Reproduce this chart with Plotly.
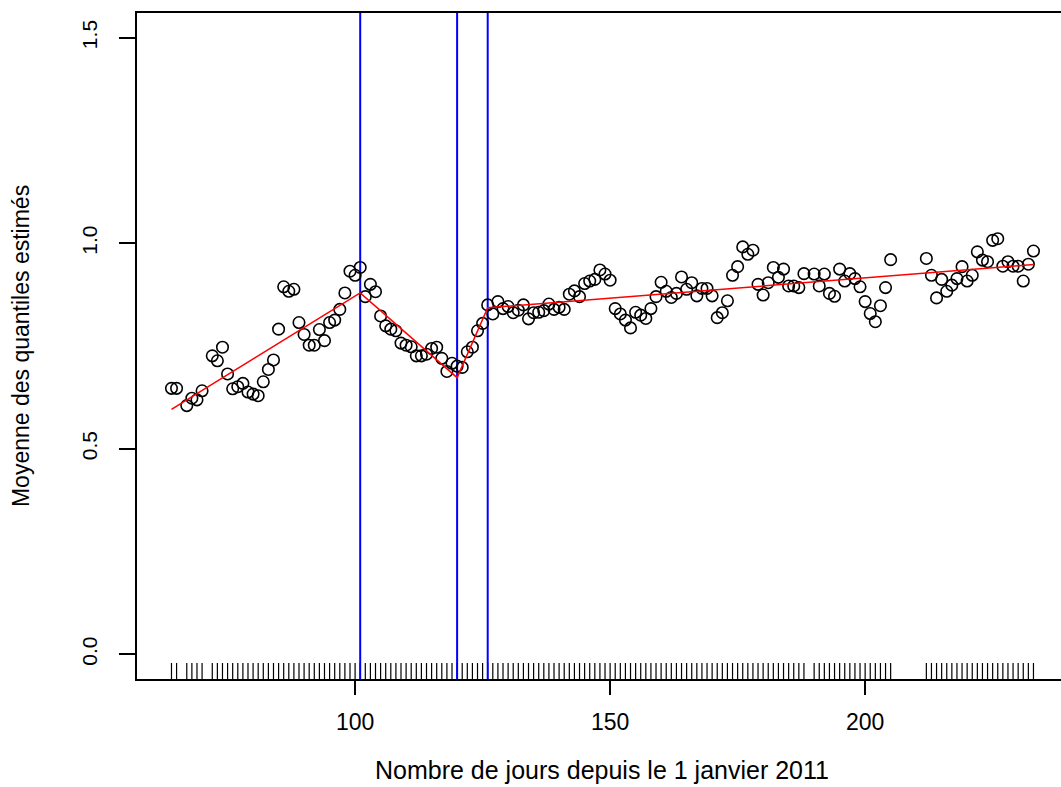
import plotly.graph_objects as go

# ---- data ----
days = [64, 65, 67, 68, 69, 70,
        72, 73, 74, 75, 76, 77, 78, 79, 80, 81, 82, 83, 84, 85, 86, 87, 88, 89, 90,
        91, 92, 93, 94, 95, 96, 97, 98, 99, 100, 101, 102, 103, 104, 105, 106, 107, 108, 109, 110,
        111, 112, 113, 114, 115, 116, 117, 118, 119, 120, 121, 122, 123, 124, 125, 126, 127, 128, 129, 130,
        131, 132, 133, 134, 135, 136, 137, 138, 139, 140, 141, 142, 143, 144, 145, 146, 147, 148, 149, 150,
        151, 152, 153, 154, 155, 156, 157, 158, 159, 160, 161, 162, 163, 164, 165, 166, 167, 168, 169, 170,
        171, 172, 173, 174, 175, 176, 177, 178, 179, 180, 181, 182, 183, 184, 185, 186, 187, 188,
        190, 191, 192, 193, 194, 195, 196, 197, 198, 199, 200, 201, 202, 203, 204, 205,
        212, 213, 214, 215, 216, 217, 218, 219, 220, 221, 222, 223, 224, 225, 226, 227, 228, 229, 230,
        231, 232, 233]

quantile_mean = [0.647, 0.647, 0.605, 0.623, 0.619, 0.641,
                 0.726, 0.714, 0.747, 0.682, 0.646, 0.651, 0.659, 0.638, 0.633, 0.629, 0.663, 0.693, 0.716, 0.791,
                 0.894, 0.883, 0.888, 0.807, 0.778,
                 0.752, 0.752, 0.790, 0.763, 0.807, 0.813, 0.839, 0.879, 0.932, 0.922, 0.941, 0.870, 0.900, 0.882,
                 0.823, 0.799, 0.791, 0.787, 0.757, 0.752,
                 0.748, 0.726, 0.726, 0.730, 0.744, 0.747, 0.720, 0.688, 0.708, 0.701, 0.698, 0.736, 0.747, 0.787,
                 0.805, 0.850, 0.828, 0.858, 0.841, 0.846,
                 0.831, 0.837, 0.850, 0.816, 0.831, 0.832, 0.836, 0.852, 0.839, 0.844, 0.839, 0.876, 0.884, 0.870,
                 0.902, 0.908, 0.912, 0.935, 0.925, 0.910,
                 0.841, 0.828, 0.813, 0.794, 0.832, 0.825, 0.817, 0.841, 0.870, 0.905, 0.883, 0.868, 0.878, 0.918,
                 0.888, 0.904, 0.872, 0.890, 0.890, 0.872,
                 0.819, 0.831, 0.860, 0.922, 0.943, 0.991, 0.973, 0.983, 0.900, 0.874, 0.904, 0.941, 0.917, 0.937,
                 0.896, 0.896, 0.892, 0.926,
                 0.925, 0.896, 0.925, 0.878, 0.871, 0.937, 0.908, 0.926, 0.914, 0.894, 0.858, 0.829, 0.809, 0.848,
                 0.892, 0.960,
                 0.963, 0.922, 0.867, 0.912, 0.883, 0.898, 0.914, 0.943, 0.908, 0.922, 0.979, 0.959, 0.955, 1.007,
                 1.011, 0.944, 0.955, 0.944, 0.944,
                 0.908, 0.949, 0.981]

fit_knots_x = [64, 101, 120, 126, 233]
fit_knots_y = [0.596, 0.879, 0.673, 0.843, 0.948]

breakpoints = [101, 120, 126]

x_ticks = [100, 150, 200]
y_ticks = [0.0, 0.5, 1.0, 1.5]
y_tick_labels = ["0.0", "0.5", "1.0", "1.5"]

x_title = "Nombre de jours depuis le 1 janvier 2011"
y_title = "Moyenne des quantiles estimés"

X_RANGE = [57.24, 238.4]
Y_RANGE = [-0.06, 1.56]
RUG_TOP = Y_RANGE[0] + 0.039

FONT = "Liberation Sans, Arial, Helvetica, sans-serif"

fig = go.Figure()

# rug
rug_x, rug_y = [], []
for d in days:
    rug_x += [d, d, None]
    rug_y += [Y_RANGE[0], RUG_TOP, None]
fig.add_trace(go.Scatter(x=rug_x, y=rug_y, mode="lines",
                         line=dict(color="black", width=1.2),
                         hoverinfo="skip", showlegend=False))

# breakpoints (vertical blue lines)
for b in breakpoints:
    fig.add_trace(go.Scatter(x=[b, b], y=Y_RANGE, mode="lines",
                             line=dict(color="#0000FF", width=2),
                             hoverinfo="skip", showlegend=False))

# points
fig.add_trace(go.Scatter(x=days, y=quantile_mean, mode="markers",
                         marker=dict(symbol="circle-open", size=11.5, color="black",
                                     line=dict(color="black", width=1.6)),
                         showlegend=False))

# piecewise linear fit
fig.add_trace(go.Scatter(x=fit_knots_x, y=fit_knots_y, mode="lines",
                         line=dict(color="#FF0000", width=1.5),
                         showlegend=False))

fig.update_layout(
    width=1061, height=787,
    margin=dict(l=137, r=0, t=13, b=108),
    paper_bgcolor="white", plot_bgcolor="white",
    font=dict(family=FONT, size=20, color="black"),
    showlegend=False,
    xaxis=dict(range=X_RANGE, tickvals=x_ticks, ticks="outside", ticklen=14,
               tickwidth=1.5, tickcolor="black", showline=True, linecolor="black",
               linewidth=1.5, mirror=True, showgrid=False, zeroline=False,
               tickfont=dict(family=FONT, size=23), ticklabelstandoff=8),
    yaxis=dict(range=Y_RANGE, tickvals=y_ticks, ticktext=y_tick_labels, tickangle=-90,
               ticks="outside", ticklen=16, tickwidth=1.5, tickcolor="black",
               showline=True, linecolor="black", linewidth=1.5, mirror=False,
               showgrid=False, zeroline=False,
               tickfont=dict(family=FONT, size=21), ticklabelstandoff=14),
    annotations=[
        dict(text=x_title, xref="paper", yref="paper", x=0.503, y=-0.137,
             xanchor="center", yanchor="middle", showarrow=False,
             font=dict(family=FONT, size=25)),
        dict(text=y_title, xref="paper", yref="paper", x=-0.1255, y=0.5,
             xanchor="center", yanchor="middle", textangle=-90, showarrow=False,
             font=dict(family=FONT, size=23)),
    ],
)

fig.write_html(
    "out.html",
    config={"displayModeBar": False},
    post_script="document.body.style.margin='0';document.body.style.padding='0';"
                "document.body.style.overflow='hidden';"
                "document.documentElement.style.overflow='hidden';",
)
